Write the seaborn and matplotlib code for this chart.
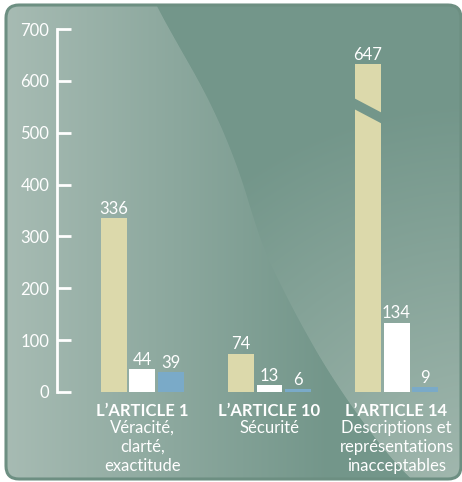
import numpy as np
import pandas as pd
import matplotlib
matplotlib.use("Agg")
import matplotlib.pyplot as plt
import seaborn as sns
from matplotlib.patches import FancyBboxPatch, Polygon
from matplotlib.transforms import blended_transform_factory
from matplotlib.colors import to_rgb

# ---------------- data ----------------
articles = ["L’ARTICLE 1", "L’ARTICLE 10", "L’ARTICLE 14"]
subtitles = [["Véracité,", "clarté,", "exactitude"],
             ["Sécurité"],
             ["Descriptions et", "représentations", "inacceptables"]]
series = ["Série 1", "Série 2", "Série 3"]
values_s1 = [336, 74, 647]
values_s2 = [44, 13, 134]
values_s3 = [39, 6, 9]
yticks = [0, 100, 200, 300, 400, 500, 600, 700]

# ---------------- style ----------------
colors = ["#dcd9ab", "#ffffff", "#7aaac8"]
display_cap = 632          # the broken bar is drawn truncated
W, H = 462, 482
FS = 12

sns.set_theme(style="white")
plt.rcParams["font.family"] = ["Lato", "DejaVu Sans"]

fig = plt.figure(figsize=(W / 100, H / 100), dpi=100)
fig.patch.set_facecolor("white")

# ---------------- background ----------------
light = np.array(to_rgb("#a8bcb4"))
dark = np.array(to_rgb("#73968a"))
light2 = np.array(to_rgb("#a6bbb2"))
curve_y = np.array([-40, 7, 50, 83, 117, 150, 183, 217, 255, 313, 363, 407, 450, 482, 530])
curve_x = np.array([135, 157, 181, 200, 217, 231, 243, 253, 266, 295, 323, 352, 384, 413, 470])

ys = np.arange(-60, H + 60, 1.0)
xs = np.interp(ys, curve_y, curve_x)
k = np.ones(41) / 41
xs = np.convolve(np.pad(xs, 20, mode="edge"), k, mode="valid")


def left_col(x):
    t = np.clip(x / 330.0, 0, 1)[..., None]
    return light * (1 - t) + dark * t


def right_col(x, y):
    d = np.hypot(x - 480, y - 520)
    t = np.clip(1 - d / 420.0, 0, 1)[..., None]
    return dark * (1 - t) + light2 * t


yy, xx = np.mgrid[0:H, 0:W] + 0.5
xc_grid = np.interp(yy, ys, xs)
edge = np.clip((xx - xc_grid) + 0.5, 0, 1)[..., None]
img = left_col(xx) * (1 - edge) + right_col(xx, yy) * edge

bg = fig.add_axes([0, 0, 1, 1])
bg.set_xlim(0, W)
bg.set_ylim(H, 0)
bg.axis("off")
panel = FancyBboxPatch((6, 5), W - 7, H - 8,
                       boxstyle="round,pad=0,rounding_size=13",
                       facecolor="none", edgecolor="#6d8f82", linewidth=2.2, zorder=3)
bg.add_patch(panel)
im = bg.imshow(img, extent=[0, W, H, 0], interpolation="bilinear", zorder=1)
im.set_clip_path(panel)

# ---------------- bars ----------------
ax = fig.add_axes([57 / W, (H - 392) / H, (450 - 57) / W, (392 - 29) / H])
ax.set_facecolor("none")

rows = []
for i, a in enumerate(articles):
    for s, vals in zip(series, [values_s1, values_s2, values_s3]):
        rows.append({"article": a, "serie": s, "value": vals[i],
                     "shown": min(vals[i], display_cap)})
df = pd.DataFrame(rows)

sns.barplot(data=df, x="article", y="shown", hue="serie", order=articles,
            hue_order=series, palette=colors, saturation=1, width=0.673,
            gap=0.088, linewidth=0, errorbar=None, legend=False, ax=ax)

for cont, vals in zip(ax.containers, [values_s1, values_s2, values_s3]):
    for bar, v in zip(cont, vals):
        ax.annotate(str(v), (bar.get_x() + bar.get_width() / 2, bar.get_height()),
                    xytext=(0, 3), textcoords="offset points", ha="center",
                    va="baseline", color="white", fontsize=FS)

ax.set_xlim(-0.673, 2.421)
ax.set_ylim(0, 700)
ax.set_yticks(yticks)
ax.set_yticklabels([str(t) for t in yticks])
ax.set_xlabel("")
ax.set_ylabel("")
for sp in ["top", "right", "bottom"]:
    ax.spines[sp].set_visible(False)
ax.spines["left"].set_color("white")
ax.spines["left"].set_linewidth(2)
ax.spines["left"].set_bounds(0, 700)
ax.spines["left"].set_capstyle("projecting")
ax.tick_params(axis="y", direction="in", length=10, width=2, color="white",
               labelcolor="white", labelsize=FS, pad=5.5, left=True)
for lab in ax.get_yticklabels():
    lab.set_verticalalignment("center_baseline")
ax.tick_params(axis="x", length=0, labelbottom=False)

# break mark on truncated bar
big = ax.containers[0][2]
x0, x1 = big.get_x() - 0.01, big.get_x() + big.get_width() + 0.01
bcol = tuple(np.ravel(right_col(np.array([368.0]), np.array([110.0]))))
brk = Polygon([[x0, 567], [x1, 538], [x1, 517], [x0, 546]], closed=True,
              facecolor=bcol, edgecolor="none", zorder=5)
ax.add_patch(brk)

# category labels
tr_ = blended_transform_factory(ax.transData, fig.transFigure)
line_base = [433, 452, 471]
for i, (a, subs) in enumerate(zip(articles, subtitles)):
    ax.text(i, 1 - 415.5 / H, a, transform=tr_, ha="center", va="baseline",
            color="white", fontsize=FS, fontweight="bold")
    for j, s in enumerate(subs):
        ax.text(i, 1 - line_base[j] / H, s, transform=tr_, ha="center",
                va="baseline", color="white", fontsize=FS)

fig.savefig("out.png", dpi=100, facecolor="white")
